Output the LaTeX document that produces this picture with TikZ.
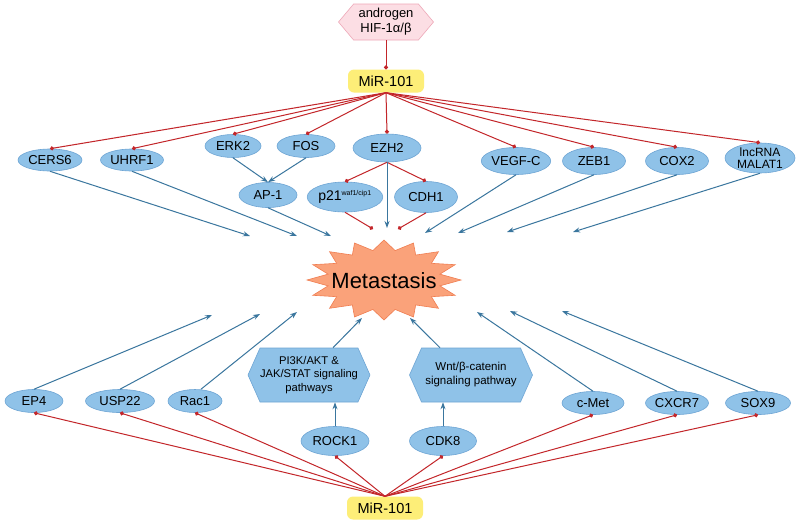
\documentclass[tikz,border=0pt]{standalone}
\usepackage{fontspec}
\setmainfont{Liberation Sans}
\usetikzlibrary{arrows.meta,shapes.geometric,shapes.symbols,calc}
\definecolor{ellf}{RGB}{143,194,232}
\definecolor{ellb}{RGB}{110,165,212}
\definecolor{bluec}{RGB}{58,118,158}
\definecolor{redc}{RGB}{195,38,42}
\definecolor{yelf}{RGB}{253,238,120}
\definecolor{pinkf}{RGB}{252,222,228}
\definecolor{pinkb}{RGB}{238,168,184}
\definecolor{starf}{RGB}{250,162,122}
\definecolor{starb}{RGB}{240,125,80}
\tikzset{
  ell/.style={ellipse, draw=ellb, fill=ellf, line width=0.6pt, inner sep=0pt, font=\fontsize{13}{14}\selectfont},
  mirbox/.style={rounded corners=6pt, fill=yelf, draw=none, minimum width=76pt, minimum height=23pt, inner sep=0pt, font=\fontsize{14.5}{16}\selectfont},
  hexa/.style={signal, signal to=east and west, draw=ellb, fill=ellf, line width=0.6pt, inner sep=0pt, align=center, font=\fontsize{11.2}{13.5}\selectfont},
  inh/.style={draw=redc, line width=1pt, -{Circle[length=4pt]}},
  act/.style={draw=bluec, line width=1pt, -{Stealth[length=7pt,width=5pt]}}
}
\begin{document}
\begin{tikzpicture}[x=1pt,y=-1pt]
\useasboundingbox[fill=white] (0,0) rectangle (800,528);
% top
\node[signal, signal to=east and west, signal pointer angle=100, draw=pinkb, fill=pinkf, line width=0.6pt, minimum width=95pt, minimum height=36pt, inner sep=0pt, align=center, font=\fontsize{13}{15}\selectfont] (hor) at (386,22) {androgen\\HIF-1α/β};
\node[mirbox] (mirT) at (386,81) {MiR-101};
\node[ell, minimum width=64pt, minimum height=22pt] (cers6) at (50,160) {CERS6};
\node[ell, minimum width=63pt, minimum height=22pt] (uhrf1) at (132,160) {UHRF1};
\node[ell, minimum width=56pt, minimum height=23pt] (erk2) at (233,146) {ERK2};
\node[ell, minimum width=58pt, minimum height=23pt] (fos) at (306,146) {FOS};
\node[ell, minimum width=68pt, minimum height=28pt] (ezh2) at (387,148) {EZH2};
\node[ell, minimum width=58pt, minimum height=25pt] (ap1) at (268,195) {AP-1};
\node[ell, minimum width=70pt, minimum height=30pt, font=\fontsize{14}{14}\selectfont] (p21) at (345,197) {p21\textsuperscript{\fontsize{7}{7}\selectfont waf1/cip1}};
\node[ell, minimum width=63pt, minimum height=31pt] (cdh1) at (426,197) {CDH1};
\node[ell, minimum width=65pt, minimum height=27pt] (vegfc) at (516,161) {VEGF-C};
\node[ell, minimum width=63pt, minimum height=27pt] (zeb1) at (594,161) {ZEB1};
\node[ell, minimum width=63pt, minimum height=27pt] (cox2) at (677,161) {COX2};
\node[ell, minimum width=70pt, minimum height=27pt, align=center, font=\fontsize{12}{12.5}\selectfont] (malat) at (760,158) {lncRNA\\MALAT1};
% star
\filldraw[fill=starf, draw=starb, line width=0.6pt] (461,280)
  \foreach \i in {0,...,15} { -- ({384+57*cos(\i*22.5+11.25)},{280+30*sin(\i*22.5+11.25)}) -- ({384+77*cos(\i*22.5+22.5)},{280+40*sin(\i*22.5+22.5)}) } -- cycle;
\node[font=\fontsize{22}{24}\selectfont] (met) at (384,281) {Metastasis};
% bottom
\node[ell, minimum width=58pt, minimum height=23pt] (ep4) at (34,401) {EP4};
\node[ell, minimum width=69pt, minimum height=23pt] (usp22) at (120,401) {USP22};
\node[ell, minimum width=54pt, minimum height=23pt] (rac1) at (195,401) {Rac1};
\node[hexa, signal pointer angle=132, minimum width=118pt, minimum height=54pt] (pi3k) at (309,375) {PI3K/AKT \&\\JAK/STAT signaling\\pathways};
\node[hexa, signal pointer angle=132, minimum width=123pt, minimum height=54pt, font=\fontsize{11.5}{14}\selectfont] (wnt) at (471,375) {Wnt/β-catenin\\signaling pathway};
\node[ell, minimum width=68pt, minimum height=29pt] (rock1) at (335,441) {ROCK1};
\node[ell, minimum width=67pt, minimum height=29pt] (cdk8) at (443,441) {CDK8};
\node[ell, minimum width=62pt, minimum height=23pt] (cmet) at (593,403) {c-Met};
\node[ell, minimum width=63pt, minimum height=23pt] (cxcr7) at (677,403) {CXCR7};
\node[ell, minimum width=65pt, minimum height=23pt] (sox9) at (758,403) {SOX9};
\node[mirbox] (mirB) at (385,508) {MiR-101};
% coordinates (free ends)
\coordinate (tCERS) at (250,236);
\coordinate (tUHRF) at (297,236);
\coordinate (tAP) at (331,236);
\coordinate (tEZH) at (387,228);
\coordinate (tVEG) at (425,233);
\coordinate (tZEB) at (458,233);
\coordinate (tCOX) at (507,232);
\coordinate (tMAL) at (573,232);
\coordinate (dP21) at (373,229);
\coordinate (dCDH) at (398,229);
\coordinate (bEP) at (212,315);
\coordinate (bUSP) at (260,314);
\coordinate (bRAC) at (297,312);
\coordinate (bPI) at (362,318);
\coordinate (bWNT) at (410,318);
\coordinate (bCMET) at (477,312);
\coordinate (bCX) at (510,311);
\coordinate (bSOX) at (562,311);
% red inhibition lines (top)
\draw[inh] (hor.south) -- (mirT.north);
\foreach \n in {cers6,uhrf1,erk2,fos,ezh2,vegfc,zeb1,cox2,malat}
  \draw[inh] (mirT.south) -- (\n.north);
\draw[inh] (ezh2.south) -- (p21.north);
\draw[inh] (ezh2.south) -- (cdh1.north);
\draw[inh] (p21.south) -- (dP21);
\draw[inh] (cdh1.south) -- (dCDH);
% blue arrows (top)
\draw[act] (erk2.south) -- (ap1.north);
\draw[act] (fos.south) -- (ap1.north);
\draw[act] (cers6.south) -- (tCERS);
\draw[act] (uhrf1.south) -- (tUHRF);
\draw[act] (ap1.south) -- (tAP);
\draw[act] (ezh2.south) -- (tEZH);
\draw[act] (vegfc.south) -- (tVEG);
\draw[act] (zeb1.south) -- (tZEB);
\draw[act] (cox2.south) -- (tCOX);
\draw[act] (malat.south) -- (tMAL);
% bottom
\foreach \n in {ep4,usp22,rac1,rock1,cdk8,cmet,cxcr7,sox9}
  \draw[inh] (mirB.north) -- (\n.south);
\draw[act] (rock1.north) -- (rock1.north |- pi3k.south);
\draw[act] (cdk8.north) -- (cdk8.north |- wnt.south);
\draw[act] (ep4.north) -- (bEP);
\draw[act] (usp22.north) -- (bUSP);
\draw[act] ($(rac1.north)+(6,0)$) -- (bRAC);
\draw[act] ($(pi3k.north)+(24,0)$) -- (bPI);
\draw[act] ($(wnt.north)+(-31,0)$) -- (bWNT);
\draw[act] (cmet.north) -- (bCMET);
\draw[act] (cxcr7.north) -- (bCX);
\draw[act] (sox9.north) -- (bSOX);
\end{tikzpicture}
\end{document}
